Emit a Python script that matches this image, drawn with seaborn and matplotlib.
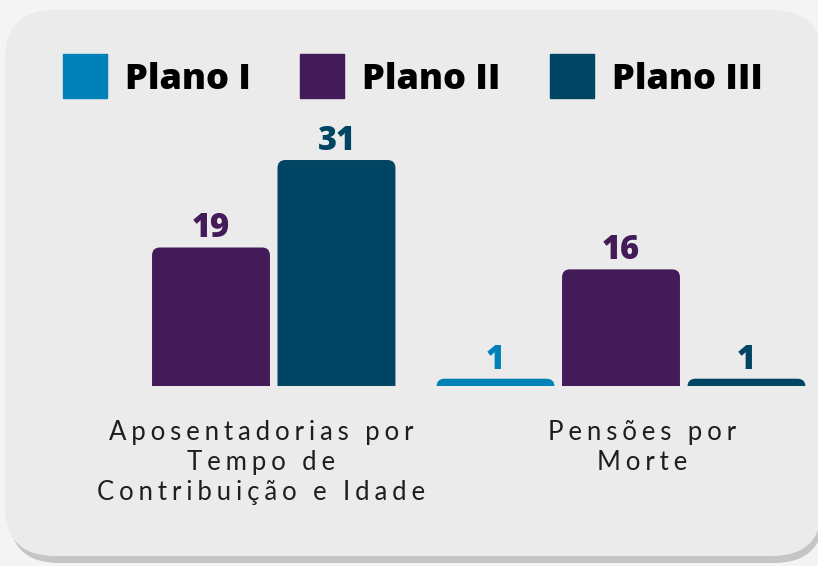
import numpy as np
import pandas as pd
import seaborn as sns
import matplotlib
matplotlib.use("Agg")
import matplotlib.pyplot as plt
from matplotlib.patches import FancyBboxPatch
from matplotlib.lines import Line2D
from matplotlib.font_manager import FontProperties

# ---------------- data ----------------
categories = ["Aposentadorias por Tempo de Contribuição e Idade", "Pensões por Morte"]
category_lines = [["Aposentadorias por", "Tempo de", "Contribuição e Idade"],
                  ["Pensões por", "Morte"]]
series = ["Plano I", "Plano II", "Plano III"]
plano_i = [0, 1]
plano_ii = [19, 16]
plano_iii = [31, 1]
colors = ["#0081b8", "#421b58", "#004563"]

df = pd.DataFrame({
    "categoria": categories * 3,
    "plano": [s for s in series for _ in categories],
    "valor": plano_i + plano_ii + plano_iii,
})

# ---------------- figure ----------------
W, H = 818, 566
sns.set_theme(style="white")
fig = plt.figure(figsize=(W / 100, H / 100), dpi=100)
fig.patch.set_facecolor("#f4f4f4")

bg = fig.add_axes([0, 0, 1, 1], zorder=0)
bg.set_xlim(0, W)
bg.set_ylim(H, 0)
bg.set_axis_off()
bg.add_patch(FancyBboxPatch((9, 16), 815, 547, boxstyle="round,pad=0,rounding_size=50",
                            fc="#c5c5c5", ec="none"))
bg.add_patch(FancyBboxPatch((5, 10), 817, 546, boxstyle="round,pad=0,rounding_size=50",
                            fc="#ebebeb", ec="none"))

base_px = 386          # baseline from top
top_px = 110
ax = fig.add_axes([0, (H - base_px) / H, 1, (base_px - top_px) / H], zorder=1)
ax.patch.set_alpha(0)
sns.barplot(data=df, x="categoria", y="valor", hue="plano", palette=colors,
            hue_order=series, order=categories, width=0.918, gap=0.06,
            errorbar=None, legend=False, ax=ax, saturation=1)
ax.set_xlim(-211 / 410, (W - 211) / 410)
ax.set_ylim(0, (base_px - top_px) / 7.29)
ax.set_axis_off()

# rounded tops
p0 = ax.transData.transform((0, 0))
p1 = ax.transData.transform((1, 1))
px_x = p1[0] - p0[0]
px_y = p1[1] - p0[1]
r_px = 8
bars = []
for p in list(ax.patches):
    h = p.get_height()
    p.set_visible(False)
    if h <= 0:
        continue
    x, w = p.get_x(), p.get_width()
    ext = 20 / px_y
    fb = FancyBboxPatch((x, -ext), w, h + ext,
                        boxstyle=f"round,pad=0,rounding_size={r_px / px_x}",
                        mutation_aspect=px_x / px_y,
                        fc=p.get_facecolor(), ec="none")
    ax.add_patch(fb)
    bars.append((x + w / 2, h, p.get_facecolor()))

# value labels
val_fp = FontProperties(family="Open Sans", weight="heavy", size=23.5)
for cx, h, col in bars:
    X, Y = ax.transData.transform((cx, h))
    bg.text(X, H - Y - 10, f"{int(round(h))}", fontproperties=val_fp, color=col,
            ha="center", va="baseline")

# category labels (letter spaced with thin spaces)
SP = "\u2009\u200a"
cat_centers = [261, 642]
baselines = [440, 470, 500]
for cx, lines in zip(cat_centers, category_lines):
    for i, line in enumerate(lines):
        s = SP.join(line)
        bg.text(cx, baselines[i], s, family=["Lato", "DejaVu Sans"], size=18.5,
                color="#1e1e1e", ha="center", va="baseline")

# legend
handles = [Line2D([], [], marker="s", linestyle="none", markersize=31.7,
                  markerfacecolor=c, markeredgecolor=c) for c in colors]
leg_fp = FontProperties(family="Open Sans", weight="heavy", size=26)
fig.legend(handles, series, loc="center left", bbox_to_anchor=(63 / W, 1 - 80 / H),
           ncol=3, frameon=False, prop=leg_fp, handlelength=1.22, handletextpad=0.5,
           columnspacing=1.36, borderpad=0, borderaxespad=0, labelcolor="black")

fig.savefig("out.png", dpi=100, facecolor=fig.get_facecolor())
